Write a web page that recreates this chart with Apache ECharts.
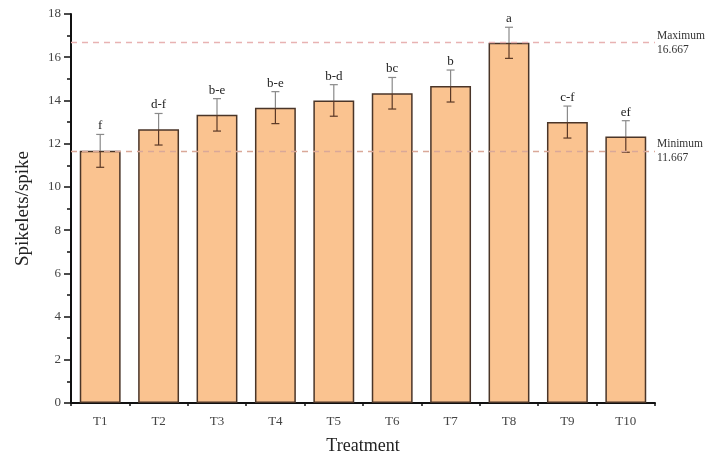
<!DOCTYPE html>
<html>
<head>
<meta charset="utf-8">
<script src="https://cdn.jsdelivr.net/npm/echarts@6/dist/echarts.min.js"></script>
<style>
  html, body { margin: 0; padding: 0; background: #fff; }
  #chart { width: 712px; height: 461px; }
</style>
</head>
<body>
<div id="chart"></div>
<script>
// Spikelets per spike by treatment, mean ± error, with significance letters
const categories = ['T1', 'T2', 'T3', 'T4', 'T5', 'T6', 'T7', 'T8', 'T9', 'T10'];
const means = [11.667, 12.667, 13.333, 13.667, 14.0, 14.333, 14.667, 16.667, 13.0, 12.333];
const errors = [0.76, 0.73, 0.75, 0.74, 0.73, 0.73, 0.74, 0.72, 0.74, 0.73];
const letters = ['f', 'd-f', 'b-e', 'b-e', 'b-d', 'bc', 'b', 'a', 'c-f', 'ef'];
const refNames = ['Maximum', 'Minimum'];
const refValues = [16.667, 11.667];

const serif = 'Liberation Serif';
const chart = echarts.init(document.getElementById('chart'), null, { renderer: 'canvas' });

const errData = categories.map((c, i) => [i, means[i], errors[i], letters[i]]);

const option = {
  animation: false,
  grid: { left: 71, right: 57, top: 14, bottom: 58 },
  xAxis: [
    {
      type: 'category',
      data: categories,
      name: 'Treatment',
      nameLocation: 'middle',
      nameGap: 34,
      nameTextStyle: { fontFamily: serif, fontSize: 18, color: '#222' },
      axisLine: { lineStyle: { color: '#111', width: 2 } },
      axisTick: { alignWithLabel: true, length: 6, lineStyle: { color: '#111', width: 1.5 } },
      axisLabel: { fontFamily: serif, fontSize: 13, color: '#444', margin: 12 }
    },
    {
      type: 'category',
      data: categories,
      position: 'bottom',
      axisLine: { show: false },
      axisTick: { show: true, length: 3, lineStyle: { color: '#111', width: 1.5 } },
      axisLabel: { show: false }
    }
  ],
  yAxis: {
    type: 'value',
    min: 0,
    max: 18,
    interval: 2,
    name: 'Spikelets/spike',
    nameLocation: 'middle',
    nameGap: 38,
    nameTextStyle: { fontFamily: serif, fontSize: 19, color: '#222' },
    axisLine: { show: true, lineStyle: { color: '#111', width: 2 } },
    axisTick: { show: true, length: 7, lineStyle: { color: '#111', width: 1.5 } },
    minorTick: { show: true, splitNumber: 2, length: 4, lineStyle: { color: '#111', width: 1.5 } },
    splitLine: { show: false },
    axisLabel: { fontFamily: serif, fontSize: 13, color: '#444', margin: 10 }
  },
  series: [
    {
      // reference lines for the maximum and minimum means
      type: 'line',
      data: [],
      z: 1,
      markLine: {
        silent: true,
        symbol: 'none',
        data: refValues.map((v, i) => ({
          yAxis: v,
          lineStyle: { color: i === 0 ? '#e8b2b2' : '#d9a898', type: [6, 5], width: 1.3 },
          label: {
            show: true,
            position: 'end',
            formatter: refNames[i] + '\n' + v.toFixed(3),
            fontFamily: serif,
            fontSize: 11.5,
            lineHeight: 14,
            color: '#333',
            align: 'left',
            distance: 2
          }
        }))
      }
    },
    {
      type: 'bar',
      data: means,
      barWidth: '70%',
      z: 2,
      itemStyle: { color: '#fac390', borderColor: '#4a3528', borderWidth: 1.5 }
    },
    {
      type: 'custom',
      z: 3,
      data: errData,
      renderItem: function (params, api) {
        const i = api.value(0);
        const m = api.value(1);
        const e = api.value(2);
        const top = api.coord([i, m + e]);
        const mid = api.coord([i, m]);
        const bot = api.coord([i, m - e]);
        const x = top[0];
        const hw = 4;
        const upper = '#8a8a8a';
        const lower = '#5a3826';
        return {
          type: 'group',
          children: [
            { type: 'line', shape: { x1: x, y1: top[1], x2: x, y2: mid[1] }, style: { stroke: upper, lineWidth: 1.2 } },
            { type: 'line', shape: { x1: x - hw, y1: top[1], x2: x + hw, y2: top[1] }, style: { stroke: upper, lineWidth: 1.2 } },
            { type: 'line', shape: { x1: x, y1: mid[1], x2: x, y2: bot[1] }, style: { stroke: lower, lineWidth: 1.2 } },
            { type: 'line', shape: { x1: x - hw, y1: bot[1], x2: x + hw, y2: bot[1] }, style: { stroke: lower, lineWidth: 1.2 } },
            {
              type: 'text',
              style: {
                x: x,
                y: top[1] - 2,
                text: api.value(3),
                textAlign: 'center',
                textVerticalAlign: 'bottom',
                fontFamily: serif,
                fontSize: 13,
                fill: '#222'
              }
            }
          ]
        };
      }
    }
  ]
};

chart.setOption(option);
</script>
</body>
</html>
